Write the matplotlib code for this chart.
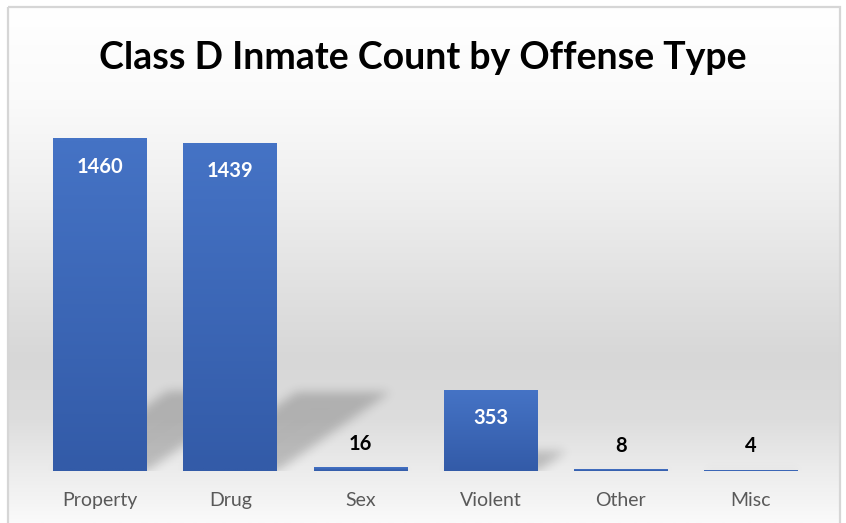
import numpy as np
import matplotlib.pyplot as plt
from matplotlib.patches import Rectangle

offense_types = ["Property", "Drug", "Sex", "Violent", "Other", "Misc"]
inmate_counts = [1460, 1439, 16, 353, 8, 4]

plt.rcParams["font.family"] = ["Lato", "DejaVu Sans"]

W_PX, H_PX = 846, 523
fig = plt.figure(figsize=(W_PX / 100, H_PX / 100), dpi=100, facecolor="white")

# background: framed panel with a soft vertical gray gradient
bg = fig.add_axes([0, 0, 1, 1], zorder=-1)
bg.set_xlim(0, W_PX)
bg.set_ylim(H_PX, 0)
bg.axis("off")
rows = np.arange(8, H_PX + 1)
shade = np.interp(rows, [8, 100, 200, 300, 360, 420, 470, 523],
                  [255, 250, 238, 223, 215, 221, 236, 250]) / 255
grad = np.repeat(shade[:, None], 3, axis=1)[:, None, :]
bg.imshow(grad, extent=(9, 839, H_PX, 8), aspect="auto", interpolation="bilinear")
bg.add_patch(Rectangle((8, 7), 832, 530, fill=False, edgecolor="#d6d6d6", lw=1.6))
bg.set_xlim(0, W_PX)
bg.set_ylim(H_PX, 0)

ax_left, ax_bottom, ax_w, ax_h = 35, 52, 781, 364
ax = fig.add_axes([ax_left / W_PX, ax_bottom / H_PX, ax_w / W_PX, ax_h / H_PX])
ax.patch.set_alpha(0)
ymax = 1600
x = np.arange(len(offense_types))
bar_w = 0.72
bars = ax.bar(x, inmate_counts, width=bar_w, color="none", zorder=3)

# perspective shadows cast up and to the right of each bar, softened by a blur
shadow = np.zeros((ax_h, ax_w))
px = np.arange(ax_w)
for b in bars:
    l = (b.get_x() + 0.5) / 6 * ax_w
    r = (b.get_x() + b.get_width() + 0.5) / 6 * ax_w
    h = b.get_height() / ymax * ax_h
    top = 0.24 * h
    for j in range(int(np.ceil(top))):
        s = 1.43 * j
        shadow[j, (px >= l + s) & (px <= r + s)] = 1.0
sigma = 5.0
k = np.arange(-15, 16)
kern = np.exp(-k ** 2 / (2 * sigma ** 2))
kern /= kern.sum()
shadow = np.apply_along_axis(lambda v: np.convolve(v, kern, mode="same"), 1, shadow)
shadow = np.apply_along_axis(lambda v: np.convolve(v, kern, mode="same"), 0, shadow)
rgba = np.zeros((ax_h, ax_w, 4))
rgba[..., 3] = 0.2 * shadow
ax.imshow(rgba, extent=(-0.5, 5.5, 0, ymax), origin="lower", aspect="auto",
          zorder=1, interpolation="bilinear")

# bar fills with a vertical blue gradient
top_c = np.array([0x45, 0x73, 0xc5]) / 255
bot_c = np.array([0x33, 0x5b, 0xa8]) / 255
t = np.linspace(0, 1, 64)[:, None]
bar_grad = (top_c * (1 - t) + bot_c * t)[:, None, :]
for b in bars:
    ax.imshow(bar_grad, extent=(b.get_x(), b.get_x() + b.get_width(), 0, b.get_height()),
              aspect="auto", zorder=3, interpolation="bilinear")

for b, v in zip(bars, inmate_counts):
    cx = b.get_x() + b.get_width() / 2
    if v > 100:
        ax.annotate(str(v), (cx, v), xytext=(0, -20), textcoords="offset points",
                    ha="center", va="center", color="white", fontsize=14.5,
                    fontweight="bold", zorder=5)
    else:
        ax.annotate(str(v), (cx, v), xytext=(0, 17), textcoords="offset points",
                    ha="center", va="center", color="black", fontsize=14.5,
                    fontweight="bold", zorder=5)

ax.set_xlim(-0.5, 5.5)
ax.set_ylim(0, ymax)
ax.set_xticks(x)
ax.set_xticklabels(offense_types, fontsize=14, color="#595959")
ax.tick_params(axis="x", length=0, pad=15)
ax.set_yticks([])
for sp in ax.spines.values():
    sp.set_visible(False)

fig.text(0.5, 1 - 58 / H_PX, "Class D Inmate Count by Offense Type", ha="center",
         va="center", fontsize=27, fontweight="bold", color="black")

fig.savefig("out.png", dpi=100)
